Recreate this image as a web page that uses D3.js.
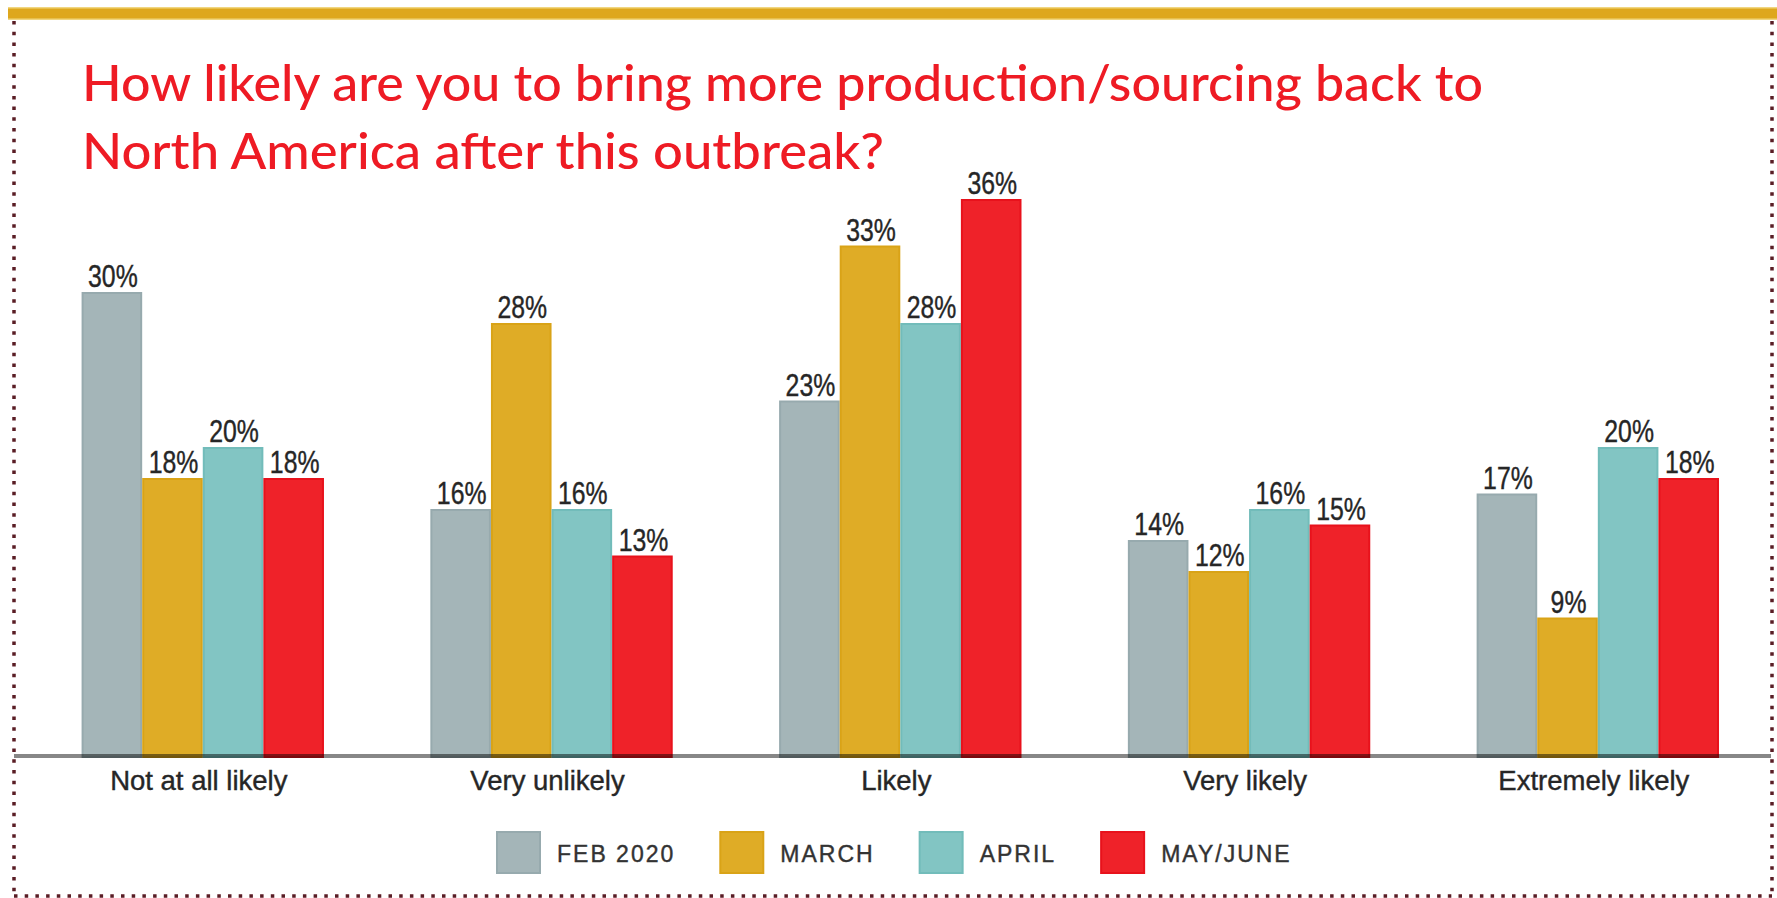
<!DOCTYPE html>
<html>
<head>
<meta charset="utf-8">
<script src="https://cdn.jsdelivr.net/npm/d3@7"></script>
<style>
  html, body { margin: 0; padding: 0; background: #ffffff; }
  svg { display: block; }
</style>
</head>
<body>
<svg id="chart" width="1777" height="898"></svg>
<script>
// ---- Data ----
const categories = ["Not at all likely", "Very unlikely", "Likely", "Very likely", "Extremely likely"];
const seriesNames = ["FEB 2020", "MARCH", "APRIL", "MAY/JUNE"];
const feb2020 = [30, 16, 23, 14, 17];
const march   = [18, 28, 33, 12, 9];
const april   = [20, 16, 28, 16, 20];
const mayJune = [18, 13, 36, 15, 18];
const titleLines = [
  "How likely are you to bring more production/sourcing back to",
  "North America after this outbreak?"
];

const seriesValues = [feb2020, march, april, mayJune];
const colors = ["#a4b5b8", "#dfac26", "#82c5c3", "#ef2229"];
const strokes = ["#97aaae", "#d9a317", "#72bcba", "#e8121c"];

const svg = d3.select("#chart");
const W = 1777, H = 898;

// ---- Frame ----
svg.append("rect").attr("x", 8).attr("y", 7).attr("width", W - 8).attr("height", 13).attr("fill", "#f1d680");
svg.append("rect").attr("x", 8).attr("y", 8.5).attr("width", W - 8).attr("height", 10).attr("fill", "#dea71d");

const dot = { stroke: "#5a1d25", "stroke-width": 3.5, "stroke-dasharray": "3.5 7.2" };
function dotted(x1, y1, x2, y2) {
  const l = svg.append("line").attr("x1", x1).attr("y1", y1).attr("x2", x2).attr("y2", y2);
  Object.entries(dot).forEach(([k, v]) => l.attr(k, v));
}
dotted(14, 21, 14, 896);
dotted(1772, 21, 1772, 896);
dotted(14, 896, 1772, 896);

// ---- Title ----
const titleWidths = [1401, 802];
titleLines.forEach((t, i) => {
  svg.append("text")
    .attr("x", 82).attr("y", 101 + i * 68)
    .attr("font-family", "Lato, 'Noto Sans', sans-serif")
    .attr("font-size", 51)
    .attr("font-weight", 500)
    .attr("fill", "#ee1b24")
    .attr("textLength", titleWidths[i])
    .attr("lengthAdjust", "spacingAndGlyphs")
    .text(t);
});

// ---- Scales ----
const x0 = d3.scaleBand().domain(categories).range([28.4, 1772.2]).paddingInner(0.305).paddingOuter(0.1525);
const x1 = d3.scaleBand().domain(seriesNames).range([0, x0.bandwidth()]).padding(0);
const y = d3.scaleLinear().domain([0, 40]).range([757, 757 - 15.5 * 40]);

const rows = [];
categories.forEach((c, ci) => {
  seriesNames.forEach((s, si) => {
    rows.push({ cat: c, ser: s, si, v: seriesValues[si][ci] });
  });
});

const g = svg.append("g");
g.selectAll("rect.bar").data(rows).join("rect")
  .attr("class", "bar")
  .attr("x", d => x0(d.cat) + x1(d.ser) + 1)
  .attr("y", d => y(d.v) + 1)
  .attr("width", x1.bandwidth() - 2)
  .attr("height", d => y(0) - y(d.v) - 1)
  .attr("fill", d => colors[d.si])
  .attr("stroke", d => strokes[d.si])
  .attr("stroke-width", 2);

g.selectAll("text.val").data(rows).join("text")
  .attr("class", "val")
  .attr("transform", d => `translate(${x0(d.cat) + x1(d.ser) + x1.bandwidth() / 2 + 1},${y(d.v) - 5}) scale(0.8,1)`)
  .attr("text-anchor", "middle")
  .attr("font-family", "'Liberation Sans', Arial, sans-serif")
  .attr("font-size", 31)
  .attr("fill", "#262626")
  .attr("stroke", "#262626")
  .attr("stroke-width", 0.4)
  .text(d => d.v + "%");

// ---- Axis ----
const xAxis = d3.axisBottom(x0).tickSize(0).tickPadding(0);
const ax = svg.append("g").attr("transform", "translate(0,756)").call(xAxis);
ax.select(".domain").remove();
ax.selectAll(".tick text")
  .attr("y", 34)
  .attr("dy", 0)
  .attr("dx", -4)
  .attr("font-family", "'Liberation Sans', Arial, sans-serif")
  .attr("font-size", 27.5)
  .attr("fill", "#262626")
  .attr("stroke", "#262626")
  .attr("stroke-width", 0.4);
svg.append("line").attr("x1", 14).attr("x2", 1771).attr("y1", 756).attr("y2", 756)
  .attr("stroke", "rgba(0,0,0,0.47)").attr("stroke-width", 4);

// ---- Legend ----
const leg = svg.append("g");
let lx = 496;
seriesNames.forEach((s, i) => {
  const it = leg.append("g").attr("transform", `translate(${lx},0)`);
  it.append("rect").attr("x", 1).attr("y", 832).attr("width", 43).attr("height", 41)
    .attr("fill", colors[i]).attr("stroke", strokes[i]).attr("stroke-width", 2);
  const t = it.append("text").attr("x", 61).attr("y", 862)
    .attr("font-family", "'Liberation Sans', Arial, sans-serif")
    .attr("font-size", 23)
    .attr("letter-spacing", 2)
    .attr("fill", "#333")
    .attr("stroke", "#333")
    .attr("stroke-width", 0.4)
    .text(s);
  const w = t.node().getComputedTextLength();
  lx += 61 + w + 44;
});
</script>
</body>
</html>
